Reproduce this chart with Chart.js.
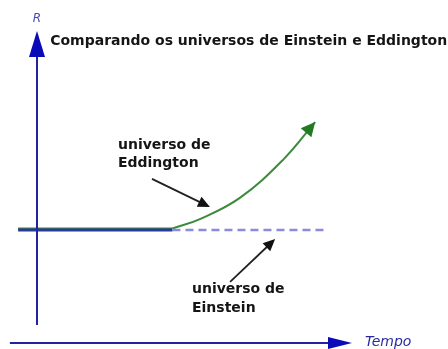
<!DOCTYPE html>
<html>
<head>
<meta charset="utf-8">
<script src="https://cdn.jsdelivr.net/npm/chart.js@4"></script>
<style>
html, body { margin: 0; padding: 0; background: #fff; }
canvas { display: block; }
</style>
</head>
<body>
<canvas id="chart" width="448" height="349"></canvas>
<script>
// R against Tempo: Einstein's static universe vs Eddington's expanding one

// Einstein: constant radius, solid first, dashed afterwards
const einsteinT = [-0.6, 4.3, 9.24];
const einsteinR = [3.62, 3.62, 3.62];

// Eddington: starts at the same radius, then grows
const eddingtonT = [-0.6, 4.3, 5.17, 6.44, 7.81, 8.83];
const eddingtonR = [3.67, 3.67, 3.97, 4.65, 5.87, 7.08];

const titleText = 'Comparando os universos de Einstein e Eddington';
const axisLabels = { r: 'R', t: 'Tempo' };

// callout text and pointer ends, in (Tempo, R) units
const notes = [
    { lines: ['universo de', 'Eddington'], t: 2.57, r: [6.35, 5.77], from: [3.65, 5.26], to: [5.49, 4.36] },
    { lines: ['universo de', 'Einstein'], t: 4.92, r: [1.73, 1.12], from: [6.13, 1.96], to: [7.56, 3.33] }
];

const toXY = (data, t) => t.map((v, i) => ({ x: v, y: data[i] }));

function pos(chart, t, r) {
    return [chart.scales.x.getPixelForValue(t), chart.scales.y.getPixelForValue(r)];
}

function arrowHead(ctx, x0, y0, x1, y1, len, half, color) {
    const a = Math.atan2(y1 - y0, x1 - x0);
    ctx.save();
    ctx.fillStyle = color;
    ctx.translate(x1, y1);
    ctx.rotate(a);
    ctx.beginPath();
    ctx.moveTo(0, 0);
    ctx.lineTo(-len, -half);
    ctx.lineTo(-len, half);
    ctx.closePath();
    ctx.fill();
    ctx.restore();
}

const diagramPlugin = {
    id: 'diagram',
    afterDatasetsDraw(chart) {
        const ctx = chart.ctx;
        ctx.save();

        // axes
        ctx.strokeStyle = '#2323a0';
        ctx.lineWidth = 2;
        let [x0, y0] = pos(chart, 0, 0.58);
        let [x1, y1] = pos(chart, 0, 10);
        ctx.beginPath();
        ctx.moveTo(x0, y0);
        ctx.lineTo(x1, y1 + 20);
        ctx.stroke();
        arrowHead(ctx, x0, y0, x1, y1, 26, 8, '#0a0ab8');

        [x0, y0] = pos(chart, -0.86, 0);
        [x1, y1] = pos(chart, 10, 0);
        ctx.beginPath();
        ctx.moveTo(x0, y0);
        ctx.lineTo(x1 - 20, y1);
        ctx.stroke();
        arrowHead(ctx, x0, y0, x1, y1, 24, 6, '#0a0ab8');

        // arrowhead on the expanding curve
        const n = eddingtonT.length;
        const [ax, ay] = pos(chart, eddingtonT[n - 2], eddingtonR[n - 2]);
        const [bx, by] = pos(chart, eddingtonT[n - 1], eddingtonR[n - 1]);
        arrowHead(ctx, ax, ay, bx, by, 14, 7, '#237a23');

        // axis names
        ctx.textBaseline = 'middle';
        ctx.fillStyle = '#4a4ab4';
        ctx.font = 'italic 12px "DejaVu Sans"';
        ctx.textAlign = 'center';
        let [lx, ly] = pos(chart, 0, 10.38);
        ctx.fillText(axisLabels.r, lx, ly);
        ctx.fillStyle = '#2a2aa0';
        ctx.font = 'italic 14px "DejaVu Sans"';
        ctx.textAlign = 'left';
        [lx, ly] = pos(chart, 10.41, 0.03);
        ctx.fillText(axisLabels.t, lx, ly);

        // title
        ctx.fillStyle = '#151515';
        ctx.font = 'bold 14px "DejaVu Sans"';
        [lx, ly] = pos(chart, 0.42, 9.68);
        ctx.fillText(titleText, lx, ly);

        // callouts
        notes.forEach(note => {
            note.lines.forEach((line, i) => {
                const [tx, ty] = pos(chart, note.t, note.r[i]);
                ctx.fillText(line, tx, ty);
            });
            const [fx, fy] = pos(chart, note.from[0], note.from[1]);
            const [ex, ey] = pos(chart, note.to[0], note.to[1]);
            ctx.strokeStyle = '#222';
            ctx.lineWidth = 1.8;
            ctx.beginPath();
            ctx.moveTo(fx, fy);
            ctx.lineTo(ex - (ex - fx) * 0.12, ey - (ey - fy) * 0.12);
            ctx.stroke();
            arrowHead(ctx, fx, fy, ex, ey, 12, 5.5, '#111');
        });

        ctx.restore();
    }
};

const eddingtonXY = toXY(eddingtonR, eddingtonT);

new Chart(document.getElementById('chart'), {
    type: 'line',
    data: {
        datasets: [
            {
                label: 'universo de Einstein',
                data: toXY(einsteinR, einsteinT),
                borderColor: '#2a3a9a',
                borderWidth: 3,
                pointRadius: 0,
                clip: false,
                segment: {
                    borderColor: c => c.p0DataIndex >= 1 ? '#8a8ae0' : undefined,
                    borderDash: c => c.p0DataIndex >= 1 ? [8, 5] : undefined,
                    borderWidth: c => c.p0DataIndex >= 1 ? 2.5 : undefined
                }
            },
            {
                // flat stretch before the expansion starts
                label: 'universo de Eddington',
                data: eddingtonXY.slice(0, 2),
                borderColor: '#3c8a3c',
                borderWidth: 2,
                pointRadius: 0,
                clip: false
            },
            {
                label: 'universo de Eddington (expansão)',
                data: eddingtonXY.slice(1),
                borderColor: '#3c8a3c',
                borderWidth: 2,
                pointRadius: 0,
                tension: 0.4,
                clip: false
            }
        ]
    },
    options: {
        responsive: false,
        animation: false,
        layout: { padding: { left: 37, right: 96, top: 31, bottom: 6 } },
        plugins: { legend: { display: false }, tooltip: { enabled: false } },
        scales: {
            x: { type: 'linear', min: 0, max: 10, display: false },
            y: { type: 'linear', min: 0, max: 10, display: false }
        }
    },
    plugins: [diagramPlugin]
});
</script>
</body>
</html>
